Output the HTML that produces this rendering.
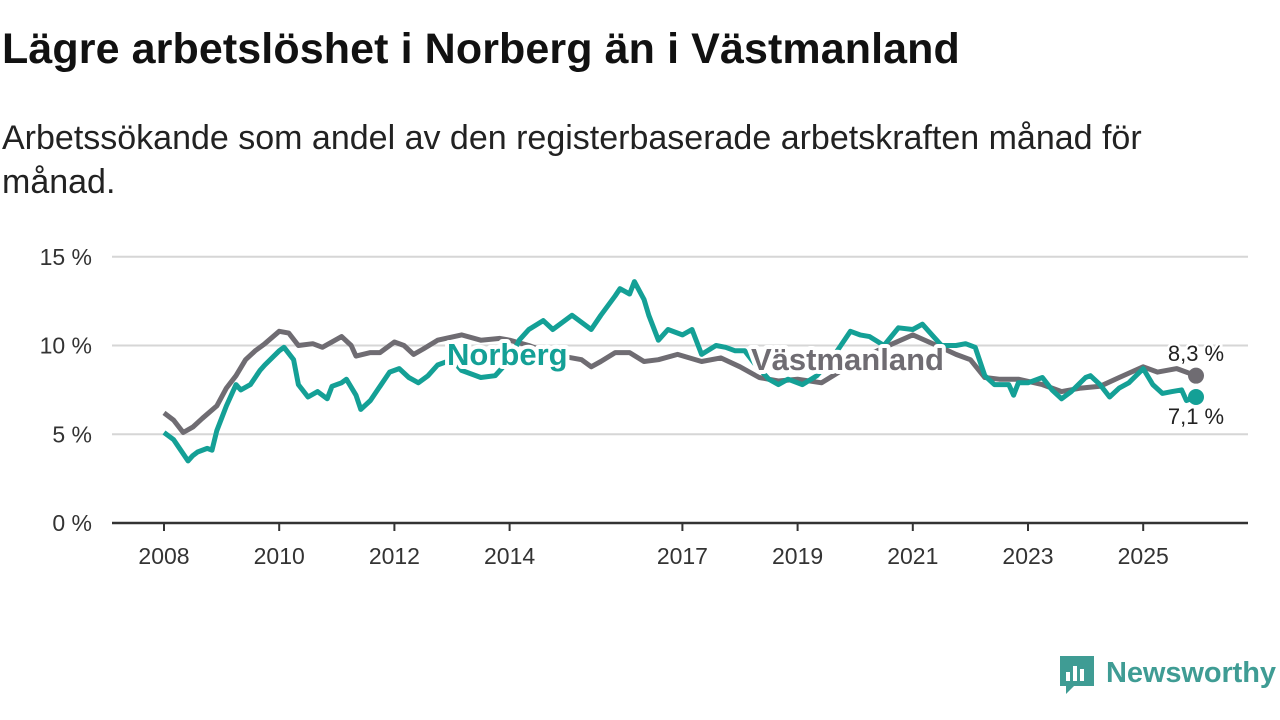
<!DOCTYPE html>
<html><head><meta charset="utf-8"><style>
body{margin:0;width:1280px;height:720px;background:#fff;overflow:hidden;font-family:"Liberation Sans",sans-serif;color:#111;}
#title{position:absolute;left:2px;top:24px;font-size:43px;font-weight:bold;margin:0;letter-spacing:0.1px;line-height:50px}
#sub{position:absolute;left:2px;top:116px;font-size:34px;line-height:44px;width:1185px;color:#222}
svg{position:absolute;left:0;top:0}
</style></head><body>
<h1 id="title">Lägre arbetslöshet i Norberg än i Västmanland</h1>
<div id="sub">Arbetssökande som andel av den registerbaserade arbetskraften månad för månad.</div>
<svg id="chart" width="1280" height="720"></svg>
<script>
const yTicks=[0,5,10,15];
const yTickLabels=["0 %","5 %","10 %","15 %"];
const xTickYears=[2008,2010,2012,2014,2017,2019,2021,2023,2025];
const vastMonths=[0,2,4,6,8,11,13,15,17,19,21,24,26,28,31,33,37,39,40,43,45,48,50,52,54,57,62,66,70,72,76,81,87,89,91,94,97,100,103,107,112,116,120,124,128,132,137,143,147,151,156,161,165,168,171,174,178,183,187,191,195,199,204,207,211,215];
const vastValues=[6.2,5.8,5.1,5.4,5.9,6.6,7.6,8.3,9.2,9.7,10.1,10.8,10.7,10.0,10.1,9.9,10.5,10.0,9.4,9.6,9.6,10.2,10.0,9.5,9.8,10.3,10.6,10.3,10.4,10.3,10.0,9.5,9.2,8.8,9.1,9.6,9.6,9.1,9.2,9.5,9.1,9.3,8.8,8.2,8.0,8.1,7.9,8.9,9.5,10.0,10.6,10.0,9.5,9.2,8.2,8.1,8.1,7.8,7.4,7.6,7.7,8.2,8.8,8.5,8.7,8.3];
const norbMonths=[0,2,3,5,6,7,9,10,11,13,15,16,18,20,21,24,25,27,28,30,32,34,35,37,38,40,41,43,45,47,49,51,53,55,57,60,62,66,69,72,74,76,79,81,85,89,91,94,95,97,98,100,101,103,105,108,110,112,115,117,119,121,123,126,128,130,133,136,139,141,143,145,147,150,153,156,158,160,162,165,167,169,171,173,175,176,177,178,180,183,185,187,189,192,193,195,197,199,201,204,206,208,210,212,213,215];
const norbValues=[5.1,4.7,4.3,3.5,3.8,4.0,4.2,4.1,5.2,6.6,7.8,7.5,7.8,8.6,8.9,9.7,9.9,9.2,7.8,7.1,7.4,7.0,7.7,7.9,8.1,7.2,6.4,6.9,7.7,8.5,8.7,8.2,7.9,8.3,8.9,9.2,8.6,8.2,8.3,9.2,10.3,10.9,11.4,10.9,11.7,10.9,11.7,12.8,13.2,12.9,13.6,12.6,11.7,10.3,10.9,10.6,10.9,9.5,10.0,9.9,9.7,9.7,9.0,8.1,7.8,8.1,7.8,8.3,9.2,10.0,10.8,10.6,10.5,10.0,11.0,10.9,11.2,10.6,10.0,10.0,10.1,9.9,8.3,7.8,7.8,7.8,7.2,7.9,7.9,8.2,7.5,7.0,7.4,8.2,8.3,7.8,7.1,7.6,7.9,8.7,7.8,7.3,7.4,7.5,6.9,7.1];
const NS="http://www.w3.org/2000/svg";
const svg=document.getElementById('chart');
const x0=164,pxPerYear=57.6;
function xm(m){return x0+m*pxPerYear/12;}
function xy(yr){return x0+(yr-2008)*pxPerYear;}
function yv(v){return 523-v*17.75;}
function mk(t,a){const e=document.createElementNS(NS,t);for(const k in a)e.setAttribute(k,a[k]);svg.appendChild(e);return e;}
yTicks.forEach((t,i)=>{
 if(t>0){const g=mk('line',{x1:112,x2:1248,y1:yv(t),y2:yv(t),stroke:'#d6d6d6','stroke-width':2});
 
 }
 const tx=mk('text',{x:92,y:yv(t)+8,'text-anchor':'end','font-size':23,fill:'#333'});
 tx.textContent=yTickLabels[i];
 
 
});
const ax=mk('line',{x1:112,x2:1248,y1:523,y2:523,stroke:'#333','stroke-width':2.5});


xTickYears.forEach(yr=>{
 const tk=mk('line',{x1:xy(yr),x2:xy(yr),y1:523,y2:531,stroke:'#333','stroke-width':2});
 
 
 const t=mk('text',{x:xy(yr),y:564,'text-anchor':'middle','font-size':23,fill:'#333'});
 t.textContent=yr;
 
 
});
function line(ms,vs,col,name){
 const d=ms.map((m,i)=>(i?'L':'M')+xm(m).toFixed(1)+','+yv(vs[i]).toFixed(1)).join('');
 const p=mk('path',{d:d,fill:'none',stroke:col,'stroke-width':5,'stroke-linejoin':'round'});
 
 
}
const gray='#6f6c72',teal='#14a096';
line(vastMonths,vastValues,gray,'vastmanland-line');
line(norbMonths,norbValues,teal,'norberg-line');
function lbl(x,y,txt,col,size,bold,name,anchor){
 const t=mk('text',{x:x,y:y,'font-size':size,'font-weight':bold?'bold':'normal',fill:col,stroke:'#fff','stroke-width':bold?8:5,'paint-order':'stroke','stroke-linejoin':'round','text-anchor':anchor||'start'});
 t.textContent=txt;
 
 
}
lbl(447,365,'Norberg',teal,31,true,'norberg-label');
lbl(751,370,'Västmanland',gray,31,true,'vastmanland-label');
const lm=vastMonths[vastMonths.length-1];
const d1=mk('circle',{cx:xm(lm),cy:yv(vastValues[vastValues.length-1]),r:8,fill:gray});


const d2=mk('circle',{cx:xm(norbMonths[norbMonths.length-1]),cy:yv(norbValues[norbValues.length-1]),r:8,fill:teal});


lbl(1196,361,'8,3 %','#222',22,false,'vastmanland-end-label','middle');
lbl(1196,424,'7,1 %','#222',22,false,'norberg-end-label','middle');
const lg=document.createElementNS(NS,'g');


svg.appendChild(lg);
lg.innerHTML='<path d="M1060 656h34v30h-20l-8 8v-8h-6z" fill="#3f9c94"/><rect x="1066" y="672" width="4" height="9" fill="#fff"/><rect x="1073" y="666" width="4" height="15" fill="#fff"/><rect x="1080" y="669" width="4" height="12" fill="#fff"/><text x="1106" y="682" font-size="29" font-weight="bold" fill="#3f9c94" textLength="170">Newsworthy</text>';
</script>
</body></html>
